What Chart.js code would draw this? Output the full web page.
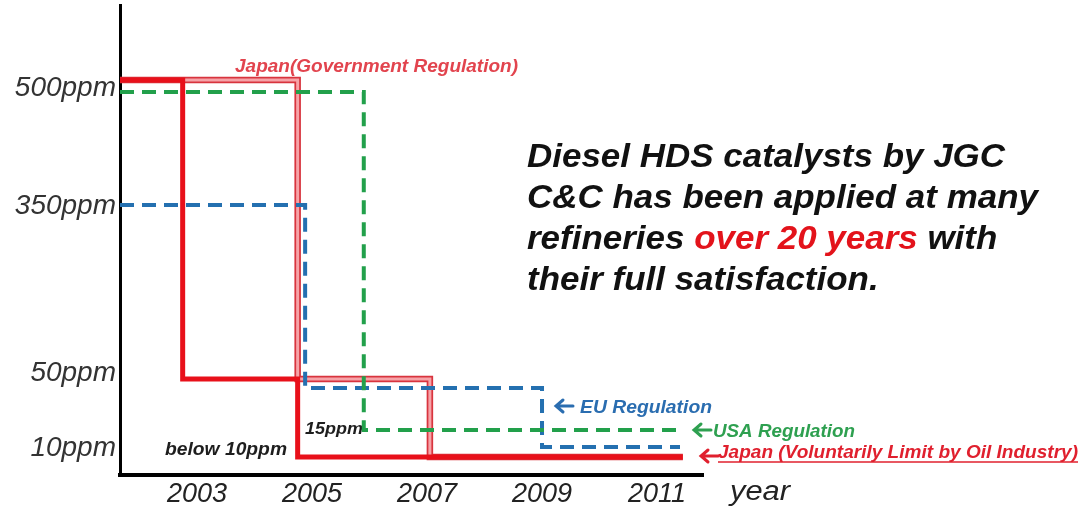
<!DOCTYPE html>
<html>
<head>
<meta charset="utf-8">
<script src="https://cdn.jsdelivr.net/npm/chart.js"></script>
<style>
  html, body { margin: 0; padding: 0; background: #fff; }
  #wrap { width: 1083px; height: 511px; position: relative; }
</style>
</head>
<body>
<div id="wrap"><canvas id="sulfurChart"></canvas></div>
<script>
// axis ticks
const yearTicks = [2003, 2005, 2007, 2009, 2011];
const ppmTicks = [10, 50, 350, 500];
const ppmTickLabels = ["10ppm", "50ppm", "350ppm", "500ppm"];

// series: year where the limit starts, and the limit in ppm
const japanVolYears = [2001.66, 2002.75, 2004.75, 2011.45];
const japanVolPpm = [500, 50, 10, 10];
const japanGovYears = [2001.66, 2004.75, 2007.05, 2011.45];
const japanGovPpm = [500, 50, 10, 10];
const usaYears = [2001.66, 2005.9, 2011.45];
const usaPpm = [500, 15, 15];
const euYears = [2001.66, 2004.88, 2009.0, 2011.4];
const euPpm = [350, 50, 10, 10];

// the y axis is not linear in the original, each level sits at its own height (px above x axis)
const levelHeight = [[0, 0], [10, 27], [15, 45], [50, 102], [350, 269], [500, 387]];
const toUnits = (ppm) => {
  for (let i = 1; i < levelHeight.length; i++) {
    const [p0, h0] = levelHeight[i - 1];
    const [p1, h1] = levelHeight[i];
    if (ppm <= p1) return h0 + ((ppm - p0) / (p1 - p0)) * (h1 - h0);
  }
  return levelHeight[levelHeight.length - 1][1];
};

// small pixel nudges so overlapping steps stay apart (like the original)
const nudges = {
  red: { 500: -8, 50: 6, 10: 9 },
  green: { 500: 4 },
  blue: { 350: -1, 50: 15, 10: -1 },
};

const points = (years, ppm, nudge) =>
  years.map((x, i) => ({ x, y: toUnits(ppm[i]) - ((nudge && nudge[ppm[i]]) || 0) }));

const FONT = '"Liberation Sans", Arial, sans-serif';
Chart.defaults.font.family = FONT;

function fitText(ctx, text, x, y, font, color, width) {
  ctx.save();
  ctx.font = font;
  ctx.fillStyle = color;
  ctx.textBaseline = "alphabetic";
  const w = ctx.measureText(text).width;
  ctx.translate(x, y);
  ctx.scale(width ? width / w : 1, 1);
  ctx.fillText(text, 0, 0);
  ctx.restore();
}

function drawRuns(ctx, runs, x, y, font, sx) {
  ctx.save();
  ctx.font = font;
  ctx.textBaseline = "alphabetic";
  ctx.translate(x, y);
  ctx.scale(sx, 1);
  let cx = 0;
  runs.forEach(([t, c]) => {
    ctx.fillStyle = c;
    ctx.fillText(t, cx, 0);
    cx += ctx.measureText(t).width;
  });
  ctx.restore();
}

function arrow(ctx, x, y, color) {
  ctx.save();
  ctx.strokeStyle = color;
  ctx.lineWidth = 3;
  ctx.lineCap = "round";
  ctx.lineJoin = "miter";
  ctx.beginPath();
  ctx.moveTo(x + 8, y - 6);
  ctx.lineTo(x + 1, y);
  ctx.lineTo(x + 8, y + 6);
  ctx.moveTo(x + 2, y);
  ctx.lineTo(x + 18, y);
  ctx.stroke();
  ctx.restore();
}

const notes = {
  id: "notes",
  beforeDatasetsDraw(chart) {
    const ctx = chart.ctx;
    fitText(ctx, "Japan(Government Regulation)", 235, 72, `italic bold 19px ${FONT}`, "#e2444e", 283);
    fitText(ctx, "15ppm", 305, 434, `italic bold 17px ${FONT}`, "#1e1e1e", 58);
    fitText(ctx, "below 10ppm", 165, 455, `italic bold 18px ${FONT}`, "#1e1e1e", 122);

    const big = `italic bold 33px ${FONT}`;
    ctx.font = big;
    const sx = 511 / ctx.measureText("C&C has been applied at many").width;
    drawRuns(ctx, [["Diesel HDS catalysts by JGC", "#111"]], 527, 167, big, sx);
    drawRuns(ctx, [["C&C has been applied at many", "#111"]], 527, 208, big, sx);
    drawRuns(ctx, [["refineries ", "#111"], ["over 20 years", "#e3131b"], [" with", "#111"]], 527, 249, big, sx);
    drawRuns(ctx, [["their full satisfaction.", "#111"]], 527, 290, big, sx);

    arrow(ctx, 555, 406, "#2a6db0");
    fitText(ctx, "EU Regulation", 580, 413, `italic bold 19px ${FONT}`, "#2a6db0", 132);
    arrow(ctx, 693, 430, "#2ea050");
    fitText(ctx, "USA Regulation", 713, 437, `italic bold 19px ${FONT}`, "#2ea050", 142);
    arrow(ctx, 700, 456, "#e0202e");
    fitText(ctx, "Japan (Voluntarily Limit by Oil Industry)", 718, 458, `italic bold 18px ${FONT}`, "#e0202e", 360);
    ctx.save();
    ctx.strokeStyle = "#e0202e";
    ctx.lineWidth = 1.5;
    ctx.beginPath();
    ctx.moveTo(718, 462);
    ctx.lineTo(1078, 462);
    ctx.stroke();
    ctx.restore();

    fitText(ctx, "year", 730, 500, `italic 27px ${FONT}`, "#222", 60);
  },
};

const ctx = document.getElementById("sulfurChart").getContext("2d");

const stepLine = (label, years, ppm, nudge, color, width, dash, order) => ({
  label,
  data: points(years, ppm, nudge),
  stepped: "before",
  borderColor: color,
  borderWidth: width,
  borderDash: dash,
  borderCapStyle: "butt",
  borderJoinStyle: "miter",
  pointRadius: 0,
  fill: false,
  clip: false,
  order,
});

new Chart(ctx, {
  type: "line",
  data: {
    datasets: [
      stepLine("USA Regulation", usaYears, usaPpm, nudges.green, "#22a04b", 4, [14, 8], 1),
      stepLine("EU Regulation", euYears, euPpm, nudges.blue, "#2470b0", 4, [14, 8], 2),
      stepLine("Japan (Voluntarily Limit by Oil Industry)", japanVolYears, japanVolPpm, nudges.red, "#e8101a", 5, [], 3),
      stepLine("Japan(Government Regulation)", japanGovYears, japanGovPpm, nudges.red, "#f6a3a8", 3, [], 4),
      stepLine("Japan(Government Regulation) edge", japanGovYears, japanGovPpm, nudges.red, "#d8343e", 6.5, [], 5),
    ],
  },
  options: {
    responsive: true,
    maintainAspectRatio: false,
    animation: false,
    layout: { padding: { top: 5, right: 380, left: 0, bottom: 0 } },
    plugins: {
      legend: { display: false },
      tooltip: { enabled: false },
    },
    scales: {
      x: {
        type: "linear",
        min: 2001.66,
        max: 2011.8,
        afterBuildTicks: (s) => { s.ticks = yearTicks.map((v) => ({ value: v })); },
        afterFit: (s) => { s.height = 36; s.paddingLeft = 0; s.paddingRight = 0; },
        grid: { display: false, drawTicks: false },
        border: { display: true, color: "#000", width: 4 },
        ticks: {
          color: "#222",
          padding: 3,
          maxRotation: 0,
          autoSkip: false,
          font: { size: 27, style: "italic" },
          callback: (v) => String(v),
        },
      },
      y: {
        type: "linear",
        min: 0,
        max: 470,
        afterBuildTicks: (s) => { s.ticks = ppmTicks.map((v) => ({ value: toUnits(v) })); },
        afterFit: (s) => { s.width = 120; s.paddingTop = 0; s.paddingBottom = 0; },
        grid: { display: false, drawTicks: false },
        border: { display: true, color: "#000", width: 3 },
        ticks: {
          color: "#333",
          padding: 4,
          autoSkip: false,
          font: { size: 28, style: "italic" },
          callback: (v) => {
            const i = ppmTicks.findIndex((p) => Math.abs(toUnits(p) - v) < 0.5);
            return i >= 0 ? ppmTickLabels[i] : "";
          },
        },
      },
    },
  },
  plugins: [notes],
});
</script>
</body>
</html>
